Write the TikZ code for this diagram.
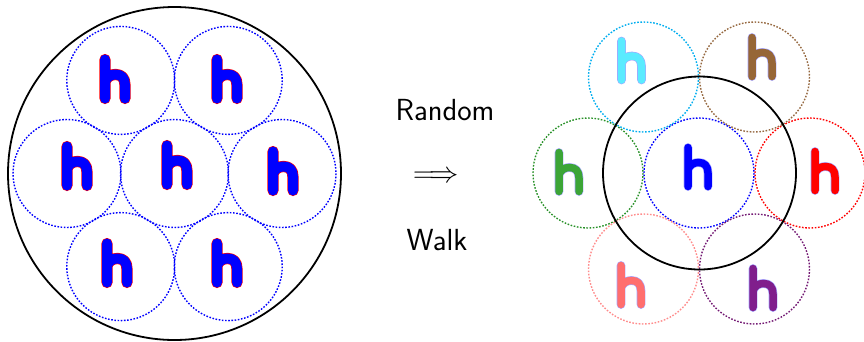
\documentclass[tikz,border=0pt]{standalone}
\usepackage{amsmath}
\usepackage{graphicx}
\definecolor{hcyan}{RGB}{90,235,255}
\definecolor{hbrown}{RGB}{150,102,55}
\definecolor{cbrown}{RGB}{150,105,65}
\definecolor{hgreen}{RGB}{60,165,55}
\definecolor{cgreen}{RGB}{40,145,40}
\definecolor{hpink}{RGB}{255,110,110}
\definecolor{cpink}{RGB}{255,140,140}
\definecolor{hpurple}{RGB}{128,30,140}
\definecolor{cpurple}{RGB}{115,25,115}
\definecolor{hedge}{RGB}{165,165,255}
\tikzset{
  dotc/.style={draw=#1, line width=1.4pt, dash pattern=on 1.6pt off 1.6pt},
  bigc/.style={draw=black, line width=1.8pt},
  lbl/.style={font=\fontsize{30.5}{36}\selectfont\sffamily, inner sep=0pt},
  pics/hh/.style n args={3}{code={
    \draw[line cap=round,line join=round,line width=#3+1.2pt,#2]
      (-10,-19.5)--(-10,19.5)
      (-10,2.5) .. controls (-8,-2.5) and (-4,-4.5) .. (0.5,-4.5)
      .. controls (6.5,-4.5) and (10,-1) .. (10,6) -- (10,19.5);
    \draw[line cap=round,line join=round,line width=#3,#1]
      (-10,-19.5)--(-10,19.5)
      (-10,2.5) .. controls (-8,-2.5) and (-4,-4.5) .. (0.5,-4.5)
      .. controls (6.5,-4.5) and (10,-1) .. (10,6) -- (10,19.5);
  }}
}
\begin{document}
\begin{tikzpicture}[x=1pt,y=-1pt]
\useasboundingbox (0,0) rectangle (864,341);
% ---------- left ----------
\coordinate (L) at (174.5,173.5);
\draw[bigc] (L) circle (166.5);
\foreach \n/\px/\py in {lc/174.5/173.5, ll/67/173.5, lr/282/173.5, ltl/120.75/80.4, ltr/228.25/80.4, lbl/120.75/266.6, lbr/228.25/266.6}{
  \draw[dotc=blue] (\px,\py) circle (54);
}
\foreach \n/\px/\py in {h1/115/79, h2/227/79, h3/77/166, h4/177/165, h5/283/171, h6/117/263, h7/227/263}{
  \pic (\n) at (\px,\py) {hh={blue}{red}{10pt}};
}
% ---------- middle text ----------
\node[lbl] (rand) at (445,110) {Random};
\node[lbl] (arr) at (436,177) {\scalebox{1.18}{$\Longrightarrow$}};
\node[lbl] (walk) at (437,240) {Walk};
% ---------- right ----------
\coordinate (R) at (699.5,173);
\draw[dotc=blue] (699,173) circle (55);
\draw[dotc=red] (810,173) circle (55);
\draw[dotc=cgreen] (588,173) circle (55);
\draw[dotc=cyan] (643.5,77) circle (55);
\draw[dotc=cbrown] (754.5,77) circle (55);
\draw[dotc=cpink] (643.5,269) circle (55);
\draw[dotc=cpurple] (754.5,269) circle (55);
\draw[bigc] (R) circle (96.5);
\pic (r1) at (631.5,60.5) {hh={hcyan}{hedge}{7.5pt}};
\pic (r2) at (762,57) {hh={hbrown}{hedge}{7.5pt}};
\pic (r3) at (569,172) {hh={hgreen}{hedge}{7.5pt}};
\pic (r4) at (698,167) {hh={blue}{hedge}{7.5pt}};
\pic (r5) at (825,171) {hh={red}{hedge}{7.5pt}};
\pic (r6) at (631,285) {hh={hpink}{hedge}{7.5pt}};
\pic (r7) at (763,288) {hh={hpurple}{hedge}{7.5pt}};
\end{tikzpicture}
\end{document}
